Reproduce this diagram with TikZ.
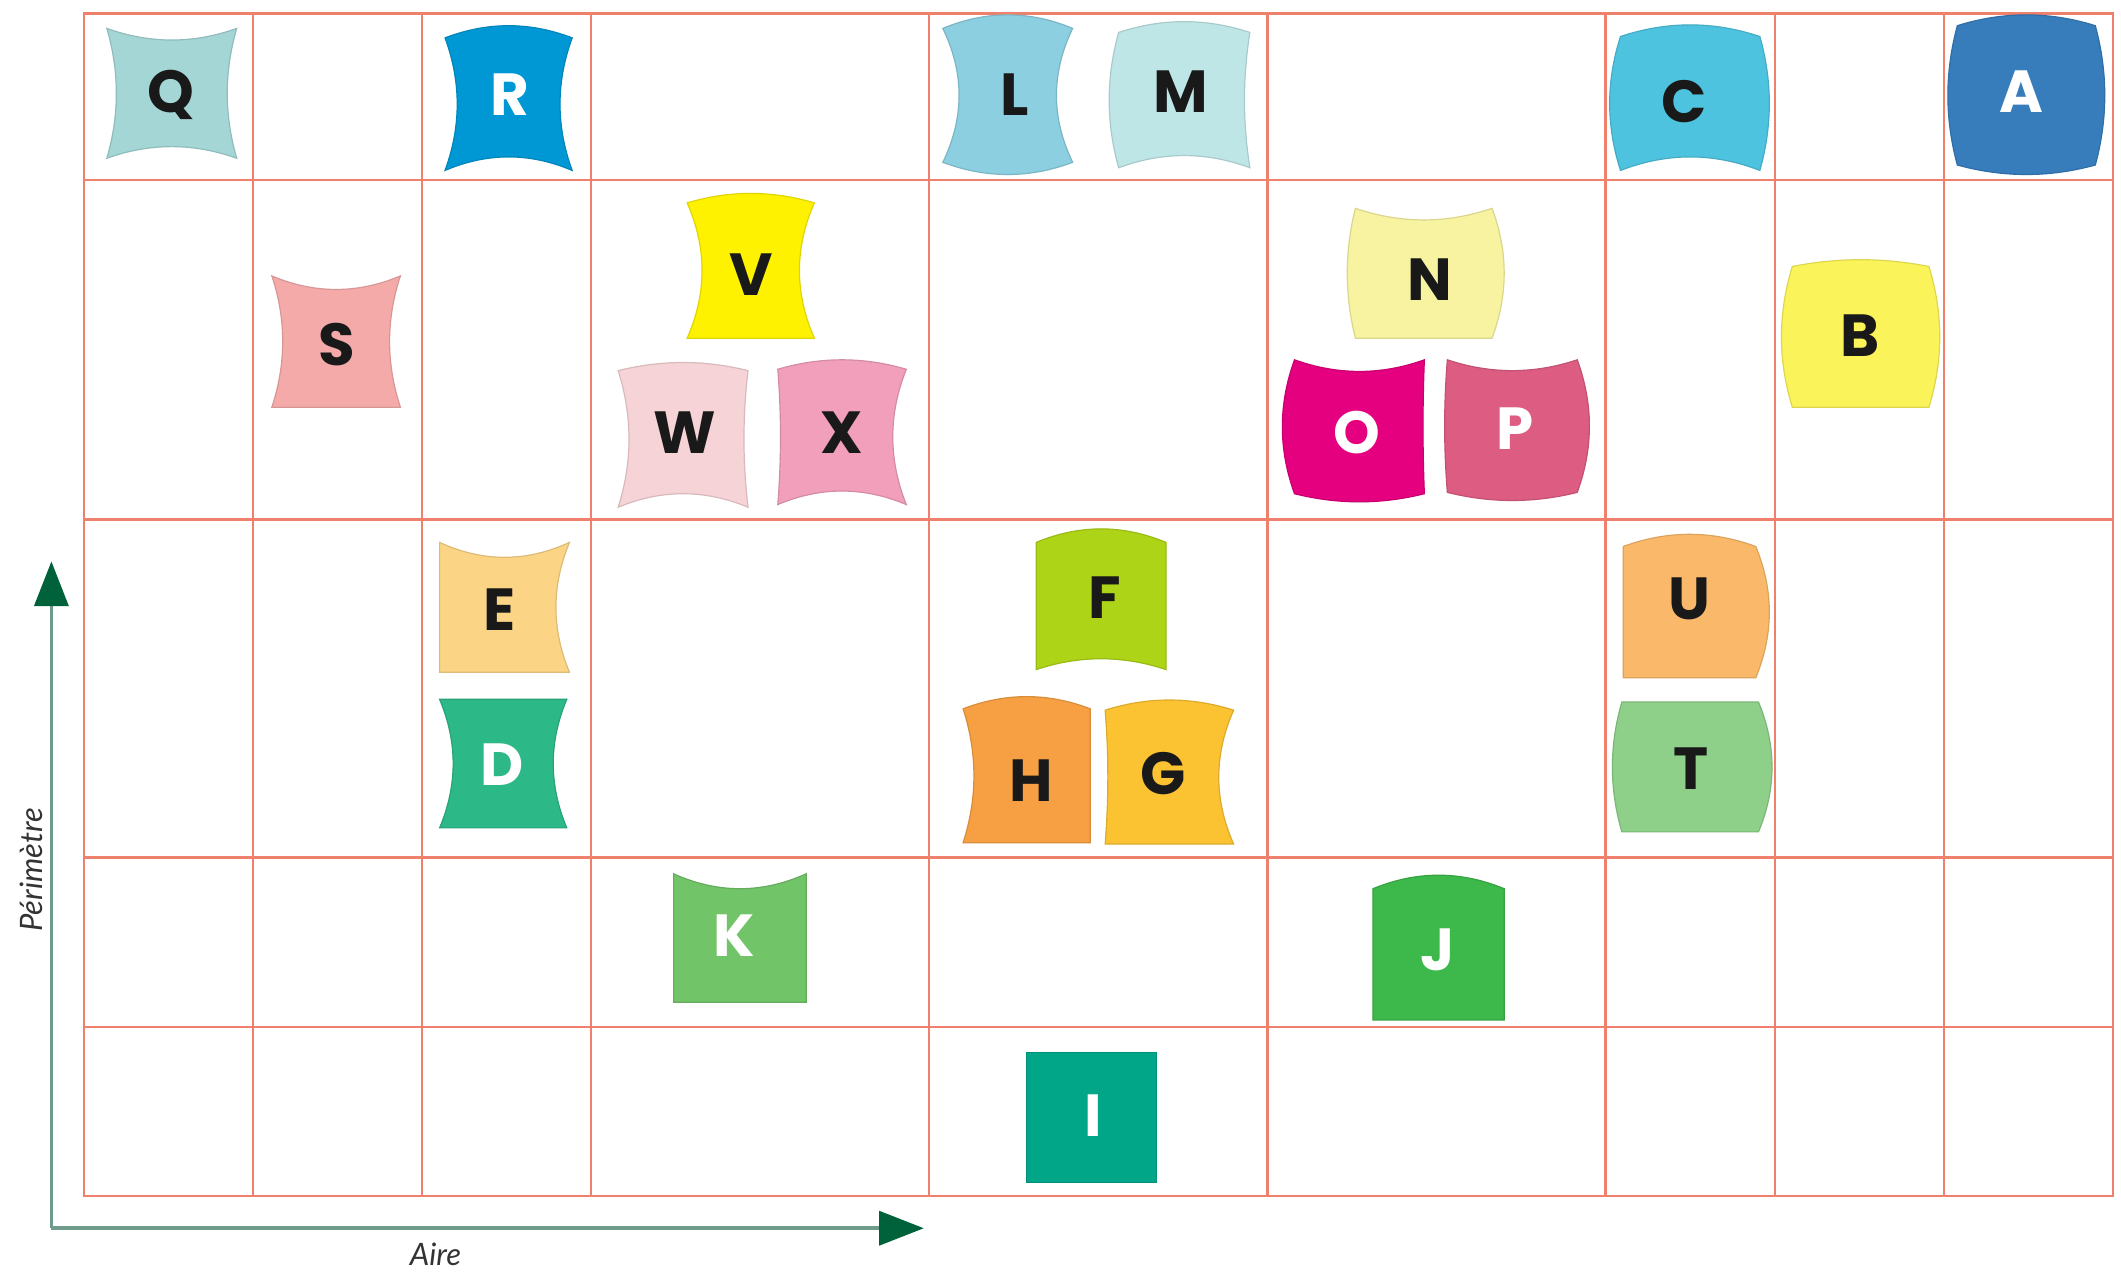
\documentclass[tikz,border=0pt]{standalone}
\usepackage{fontspec}
\setmainfont{Lato}
\newfontfamily\tilefont{Poppins}
\newfontfamily\axisfont{Lato}
\usetikzlibrary{arrows.meta}
\definecolor{gridc}{RGB}{238,128,108}
\definecolor{axisline}{RGB}{110,155,138}
\definecolor{axisdark}{RGB}{0,98,58}
\definecolor{cQ}{RGB}{164,214,214}
\definecolor{cR}{RGB}{0,152,212}
\definecolor{cL}{RGB}{140,207,224}
\definecolor{cM}{RGB}{191,230,230}
\definecolor{cC}{RGB}{78,195,223}
\definecolor{cA}{RGB}{55,125,188}
\definecolor{cS}{RGB}{245,170,170}
\definecolor{cV}{RGB}{255,242,0}
\definecolor{cW}{RGB}{246,211,214}
\definecolor{cX}{RGB}{241,159,186}
\definecolor{cN}{RGB}{248,243,160}
\definecolor{cO}{RGB}{228,0,126}
\definecolor{cP}{RGB}{221,92,130}
\definecolor{cB}{RGB}{250,244,90}
\definecolor{cE}{RGB}{251,213,133}
\definecolor{cD}{RGB}{45,184,136}
\definecolor{cF}{RGB}{174,212,23}
\definecolor{cH}{RGB}{246,160,67}
\definecolor{cG}{RGB}{251,194,50}
\definecolor{cU}{RGB}{250,185,106}
\definecolor{cT}{RGB}{142,207,137}
\definecolor{cK}{RGB}{114,196,104}
\definecolor{cJ}{RGB}{61,184,74}
\definecolor{cI}{RGB}{0,166,135}
\tikzset{
  gridline/.style={draw=gridc, line width=0.5pt},
  axisarrow/.style={draw=axisline, line width=0.8pt,
    -{Triangle[length=3.3mm,width=2.5mm,color=axisdark]}},
  axislabel/.style={font=\axisfont\itshape\fontsize{6.5}{7}\selectfont, text=black!80, inner sep=0pt},
  darkletter/.style={font=\tilefont\bfseries\fontsize{12.5}{12.5}\selectfont, text=black!90, inner sep=0pt},
  lightletter/.style={font=\tilefont\bfseries\fontsize{12.5}{12.5}\selectfont, text=white, inner sep=0pt},
  tileedge/.style={line width=0.25pt}
}
\newcommand\tileshape[9]{%
  \pgfmathsetmacro\tlW{(#4-#2)/3}%
  \pgfmathsetmacro\tlH{(#5-#3)/3}%
  \pgfmathsetmacro\tlT{4/3*(#6)}%
  \pgfmathsetmacro\tlR{4/3*(#7)}%
  \pgfmathsetmacro\tlB{4/3*(#8)}%
  \pgfmathsetmacro\tlL{4/3*(#9)}%
  \filldraw[tileedge, fill=#1, draw=#1!88!black]
    (#2,#3) .. controls ({#2+\tlW},{#3-(\tlT)}) and ({#4-\tlW},{#3-(\tlT)}) .. (#4,#3)
    .. controls ({#4+(\tlR)},{#3+\tlH}) and ({#4+(\tlR)},{#5-\tlH}) .. (#4,#5)
    .. controls ({#4-\tlW},{#5+(\tlB)}) and ({#2+\tlW},{#5+(\tlB)}) .. (#2,#5)
    .. controls ({#2-(\tlL)},{#5-\tlH}) and ({#2-(\tlL)},{#3+\tlH}) .. cycle;%
}
\begin{document}
\begin{tikzpicture}[x=0.1mm,y=-0.1mm]
\useasboundingbox[fill=white] (0,0) rectangle (1568,940);
% grid
\draw[gridline] (62,10) rectangle (1562,884);
\foreach \gx in {187,312,437,687,937,1187,1312,1437}
  \draw[gridline] (\gx,10) -- (\gx,884);
\foreach \gy in {133,384,634,759}
  \draw[gridline] (62,\gy) -- (1562,\gy);
% axes
\coordinate (origin) at (38,908);
\coordinate (ytip) at (38,415);
\coordinate (xtip) at (683,908);
\draw[axisarrow] (origin) -- (ytip);
\draw[axisarrow] (origin) -- (xtip);
\node[axislabel, rotate=90] (perim) at (23,643) {Périmètre};
\node[axislabel] (aire) at (322,927) {Aire};
% tiles
\tileshape{cQ}{79}{21}{175}{117}{-8.6}{-7}{-8.6}{-7}
\tileshape{cR}{329}{28}{423}{126}{9}{-9}{-10}{-9}
\tileshape{cL}{697}{21}{793}{120}{10}{-12}{9}{-12}
\tileshape{cM}{827}{24}{924}{124}{8}{-4}{-9}{7}
\tileshape{cC}{1198}{27}{1301}{126}{8.6}{7}{-10}{8}
\tileshape{cA}{1447}{19}{1549}{122}{8}{7}{7}{7}
\tileshape{cS}{201}{204}{296}{301}{-10}{-8}{0}{-8}
\tileshape{cV}{508}{150}{602}{250}{7}{-11}{0}{-11}
\tileshape{cW}{457}{274}{553}{375}{6}{-3}{-10}{-8}
\tileshape{cX}{575}{273}{670}{373}{7}{-10}{-10}{-2}
\tileshape{cN}{1002}{154}{1103}{250}{-8.6}{9}{0}{6}
\tileshape{cO}{957}{266}{1053}{365}{-8.6}{-1}{6}{9}
\tileshape{cP}{1070}{266}{1166}{364}{-8}{9}{6}{2}
\tileshape{cB}{1325}{197}{1426}{301}{5}{8}{0}{8}
\tileshape{cE}{325}{401}{421}{497}{-11}{-10}{0}{0}
\tileshape{cD}{325}{517}{419}{612}{0}{-10}{0}{-10}
\tileshape{cF}{766}{401}{862}{495}{10}{0}{-8}{0}
\tileshape{cH}{712}{524}{806}{623}{9}{0}{0}{-8}
\tileshape{cG}{817}{525}{912}{624}{7.5}{-11}{0}{-2}
\tileshape{cU}{1200}{404}{1298}{501}{9}{10}{0}{0}
\tileshape{cT}{1199}{519}{1300}{615}{0}{10}{0}{7}
\tileshape{cK}{498}{646}{596}{741}{-11}{0}{0}{0}
\tileshape{cJ}{1015}{657}{1112}{754}{10}{0}{0}{0}
\tileshape{cI}{759}{778}{855}{874}{0}{0}{0}{0}
% letters
\node[darkletter] (Q) at (126,70) {Q};
\node[lightletter] (R) at (377,70) {R};
\node[darkletter] (L) at (750,70) {L};
\node[darkletter] (M) at (873,68) {M};
\node[darkletter] (C) at (1245,75) {C};
\node[lightletter] (A) at (1494,68) {A};
\node[darkletter] (S) at (249,255) {S};
\node[darkletter] (V) at (555,203) {V};
\node[darkletter] (W) at (506,320) {W};
\node[darkletter] (X) at (622,320) {X};
\node[darkletter] (N) at (1057,207) {N};
\node[lightletter] (O) at (1003,320) {O};
\node[lightletter] (P) at (1120,317) {P};
\node[darkletter] (B) at (1375,248) {B};
\node[darkletter] (E) at (369,451) {E};
\node[lightletter] (D) at (371,565) {D};
\node[darkletter] (F) at (817,442) {F};
\node[darkletter] (H) at (762,577) {H};
\node[darkletter] (G) at (860,572) {G};
\node[darkletter] (U) at (1249,443) {U};
\node[darkletter] (T) at (1250,568) {T};
\node[lightletter] (K) at (543,692) {K};
\node[lightletter] (J) at (1063,702) {J};
\node[lightletter] (I) at (808,825) {I};
\end{tikzpicture}
\end{document}
